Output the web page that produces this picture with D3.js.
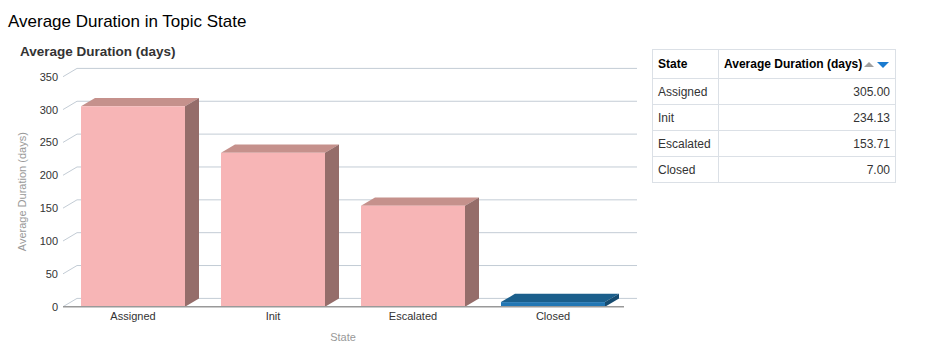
<!DOCTYPE html>
<html>
<head>
<meta charset="utf-8">
<script src="https://cdn.jsdelivr.net/npm/d3@7"></script>
<style>
  body { margin: 0; background: #fff; font-family: 'Liberation Sans', Arial, sans-serif; }
  #wrap { position: relative; width: 935px; height: 362px; }
  table.grid {
    position: absolute; left: 652px; top: 49px;
    border-collapse: collapse; font-size: 12px; color: #333;
  }
  table.grid td, table.grid th {
    border: 1px solid #dbe0e6; height: 26px; padding: 0 5px; box-sizing: border-box;
  }
  table.grid th { text-align: left; font-weight: bold; color: #000; height: 29px; }
  table.grid td.num { text-align: right; }
</style>
</head>
<body>
<div id="wrap">
  <svg id="chart" width="935" height="362"></svg>
</div>
<script>
const categories = ['Assigned', 'Init', 'Escalated', 'Closed']
const values = [305.0, 234.13, 153.71, 7.0]
const yTicks = [0, 50, 100, 150, 200, 250, 300, 350]

const pink = { front: '#f7b5b6', top: '#c5918c', side: '#956d6a' }
const blue = { front: '#2377b4', top: '#1b5f8c', side: '#164b70' }
const barColors = [pink, pink, pink, blue]

const svg = d3.select('#chart')

svg.append('text')
  .attr('x', 8).attr('y', 27)
  .attr('font-size', 17).attr('fill', '#000')
  .text('Average Duration in Topic State')

svg.append('text')
  .attr('x', 20).attr('y', 56)
  .attr('font-size', 13.5).attr('font-weight', 'bold').attr('fill', '#333')
  .text('Average Duration (days)')

const depthX = 14
const depthY = 8.3
const left = 63
const right = 623
const baseY = 306.7

const x = d3.scaleBand().domain(categories).range([left, right]).paddingInner(0).paddingOuter(0)
const y = d3.scaleLinear().domain([0, 350]).range([baseY, baseY - 230])
const barW = 104

const g = svg.append('g')

// back wall grid lines + diagonal floor stubs
g.selectAll('line.grid')
  .data(yTicks)
  .join('line')
  .attr('class', 'grid')
  .attr('x1', left + depthX).attr('x2', right + depthX)
  .attr('y1', d => y(d) - depthY).attr('y2', d => y(d) - depthY)
  .attr('stroke', '#c3ccd5').attr('stroke-width', 1)

g.selectAll('line.stub')
  .data(yTicks)
  .join('line')
  .attr('class', 'stub')
  .attr('x1', left).attr('y1', d => y(d))
  .attr('x2', left + depthX).attr('y2', d => y(d) - depthY)
  .attr('stroke', '#c3ccd5').attr('stroke-width', 1)

// tick labels
g.selectAll('text.ytick')
  .data(yTicks)
  .join('text')
  .attr('class', 'ytick')
  .attr('x', 58).attr('y', d => y(d) + 4)
  .attr('text-anchor', 'end')
  .attr('font-size', 11).attr('fill', '#333')
  .text(d => d)

// bars
const bars = g.selectAll('g.bar')
  .data(categories.map((c, i) => ({ c, v: values[i], col: barColors[i] })))
  .join('g')
  .attr('class', 'bar')

bars.each(function (d) {
  const b = d3.select(this)
  const x0 = x(d.c) + (x.bandwidth() - barW) / 2
  const x1 = x0 + barW
  const yt = y(d.v)
  const yb = y(0)
  b.append('path')
    .attr('d', `M${x0},${yt}L${x0 + depthX},${yt - depthY}L${x1 + depthX},${yt - depthY}L${x1},${yt}Z`)
    .attr('fill', d.col.top)
  b.append('path')
    .attr('d', `M${x1},${yt}L${x1 + depthX},${yt - depthY}L${x1 + depthX},${yb - depthY}L${x1},${yb}Z`)
    .attr('fill', d.col.side)
  b.append('rect')
    .attr('x', x0).attr('y', yt)
    .attr('width', barW).attr('height', yb - yt)
    .attr('fill', d.col.front)
})

// baseline
g.append('line')
  .attr('x1', left).attr('x2', right + 1)
  .attr('y1', baseY).attr('y2', baseY)
  .attr('stroke', '#999').attr('stroke-width', 1.5)

g.selectAll('text.xtick')
  .data(categories)
  .join('text')
  .attr('class', 'xtick')
  .attr('x', d => x(d) + x.bandwidth() / 2)
  .attr('y', 320)
  .attr('text-anchor', 'middle')
  .attr('font-size', 11).attr('fill', '#333')
  .text(d => d)

svg.append('text')
  .attr('x', (left + right) / 2).attr('y', 341)
  .attr('text-anchor', 'middle')
  .attr('font-size', 11).attr('fill', '#999')
  .text('State')

svg.append('text')
  .attr('transform', `translate(26, ${y(175)}) rotate(-90)`)
  .attr('text-anchor', 'middle')
  .attr('font-size', 11).attr('fill', '#999')
  .text('Average Duration (days)')

// table
const table = d3.select('#wrap').append('table').attr('class', 'grid')
const head = table.append('tr')
head.append('th').style('width', '66px').text('State')
const th2 = head.append('th').style('width', '177px').style('padding-right', '2px')
th2.append('span').text('Average Duration (days)')
const icons = th2.append('svg').attr('width', 28).attr('height', 10)
  .style('vertical-align', 'middle').style('margin-left', '1px')
icons.append('path').attr('d', 'M1,7L6,2L11,7Z').attr('fill', '#a0a0a0')
icons.append('path').attr('d', 'M14,2L26,2L20,8Z').attr('fill', '#1a7bd0')

table.selectAll('tr.row')
  .data(categories.map((c, i) => ({ c, v: values[i] })))
  .join('tr')
  .attr('class', 'row')
  .each(function (d) {
    const r = d3.select(this)
    r.append('td').text(d.c)
    r.append('td').attr('class', 'num').text(d.v.toFixed(2))
  })
</script>
</body>
</html>
